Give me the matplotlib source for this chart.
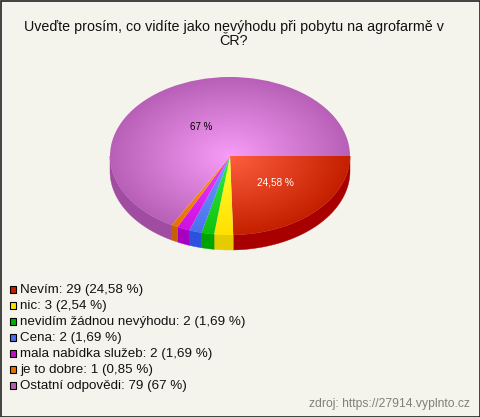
import matplotlib
matplotlib.use("Agg")
import matplotlib.pyplot as plt
from matplotlib.patches import Wedge, Polygon, Rectangle
from matplotlib.transforms import Affine2D
import numpy as np

plt.rcParams['font.family'] = ['Liberation Sans', 'DejaVu Sans']

title = "Uveďte prosím, co vidíte jako nevýhodu při pobytu na agrofarmě v\nČR?"
labels = ["Nevím", "nic", "nevidím žádnou nevýhodu", "Cena", "mala nabídka služeb",
          "je to dobre", "Ostatní odpovědi"]
values = [29, 3, 2, 2, 2, 1, 79]
percents = ["24,58 %", "2,54 %", "1,69 %", "1,69 %", "1,69 %", "0,85 %", "67 %"]
inner = ["#ff5f3f", "#ffff30", "#30f040", "#6f9fff", "#f040ff", "#ffa020", "#f79cf7"]
outer = ["#c42000", "#ffe000", "#10c010", "#4a70f0", "#d010e0", "#e87000", "#b860b8"]
side = ["#a80000", "#e4cc00", "#00a400", "#2c50e0", "#a800c0", "#c86000", "#a04ca0"]
legend_col = ["#c42000", "#ffe000", "#00b000", "#4a70f0", "#c010c8", "#e87000", "#b860b0"]

bg = "#f5f4ec"
cx, cy, rx, ry, depth = 230, 156, 120, 79, 15

fig = plt.figure(figsize=(4.8, 4.17), dpi=100, facecolor=bg)
ax = fig.add_axes([0, 0, 1, 1])
ax.set_xlim(0, 480)
ax.set_ylim(417, 0)
ax.axis("off")

ax.text(234, 34, title, ha="center", va="center", fontsize=10.3, color="#111111", linespacing=1.05)

total = sum(values)
edges = np.cumsum([0] + values) / total * 360
to_px = Affine2D().scale(rx, ry).translate(cx, cy) + ax.transData

# walls first, only the front half shows
for i in range(len(values)):
    a0, a1 = edges[i], min(edges[i + 1], 180)
    if a0 >= 180:
        continue
    t = np.radians(np.linspace(a0, a1, 60))
    x = cx + rx * np.cos(t)
    y = cy + ry * np.sin(t)
    pts = list(zip(x, y + depth)) + list(zip(x[::-1], y[::-1]))
    ax.add_patch(Polygon(pts, closed=True, facecolor=side[i], edgecolor=side[i], lw=0.3))

# top face, radial gradient per slice
gx, gy = np.meshgrid(np.linspace(-1, 1, 480), np.linspace(-1, 1, 320))
r = np.clip(np.hypot(gx, gy), 0, 1)[..., None]
for i in range(len(values)):
    c0 = np.array(matplotlib.colors.to_rgb(inner[i]))
    c1 = np.array(matplotlib.colors.to_rgb(outer[i]))
    img = c0 + (c1 - c0) * r
    w = Wedge((0, 0), 1, edges[i], edges[i + 1], transform=to_px, facecolor="none", edgecolor="none")
    ax.add_patch(w)
    im = ax.imshow(img, extent=(cx - rx, cx + rx, cy + ry, cy - ry), aspect="auto", interpolation="bilinear", zorder=2)
    im.set_clip_path(w)
ax.set_xlim(0, 480)
ax.set_ylim(417, 0)

ax.text(201, 127, percents[6], ha="center", va="center", fontsize=7, color="black", zorder=3)
ax.text(275, 182, percents[0], ha="center", va="center", fontsize=7.2, color="white", zorder=3)

for i in range(len(values)):
    y = 289 + i * 16.15
    ax.add_patch(Rectangle((9.5, y - 3.5), 6.5, 7, facecolor=legend_col[i], edgecolor="black", lw=0.8))
    ax.text(20, y + 0.5, f"{labels[i]}: {values[i]} ({percents[i]})", ha="left", va="center",
            fontsize=9.65, color="#111111")

ax.text(470, 404, "zdroj: https://27914.vyplnto.cz", ha="right", va="center", fontsize=8.75, color="#808078")

ax.add_patch(Rectangle((0.5, 0.5), 479, 416, facecolor="none", edgecolor="#222222", lw=1.2, zorder=5))

fig.savefig("out.png", dpi=100, facecolor=bg)
